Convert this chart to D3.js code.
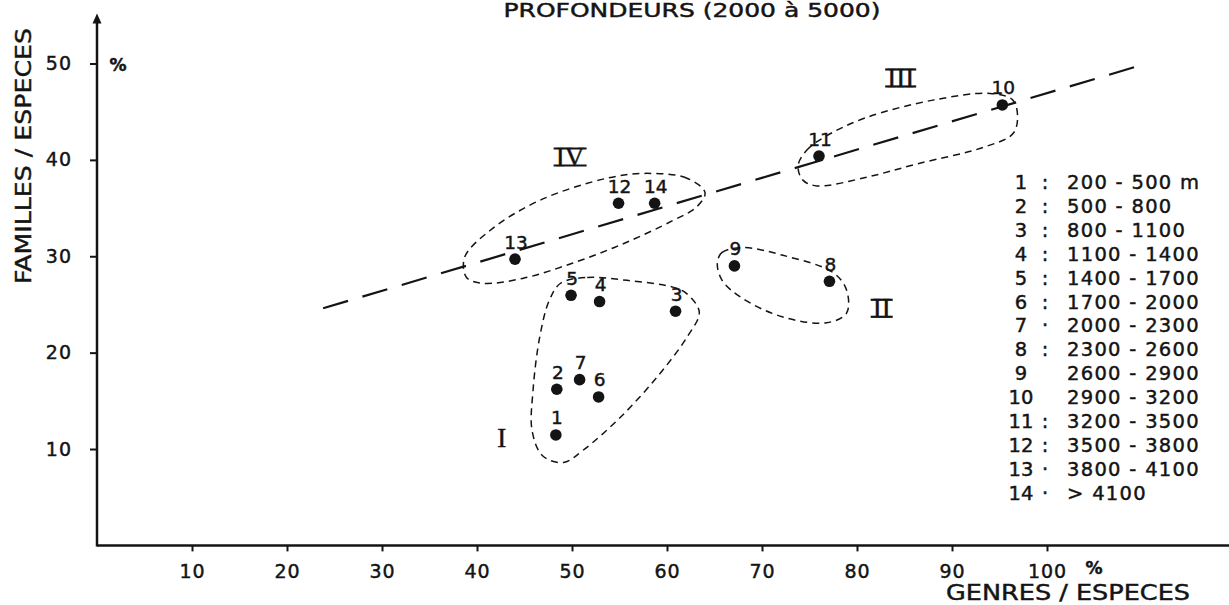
<!DOCTYPE html>
<html><head><meta charset="utf-8">
<script src="https://cdn.jsdelivr.net/npm/d3@7"></script>
<style>body{margin:0;background:#fff} svg{display:block} text{stroke:#141414;stroke-width:0.45px}</style>
</head><body><svg id="c" width="1229" height="605"></svg>
<script>
// ---- data ----
const depthIds     = ["1","2","3","4","5","6","7","8","9","10","11","12","13","14"];
const genresPct    = [48.3, 48.4, 60.9, 52.9, 49.9, 52.8, 50.8, 77.1, 67.1, 95.3, 76.0, 54.9, 44.0, 58.7];
const famillesPct  = [11.46, 16.2, 24.3, 25.3, 25.95, 15.4, 17.2, 27.4, 29.0, 45.7, 40.4, 35.5, 29.7, 35.5];
const legendRanges = ["200 - 500 m","500 - 800","800 - 1100","1100 - 1400","1400 - 1700","1700 - 2000","2000 - 2300","2300 - 2600","2600 - 2900","2900 - 3200","3200 - 3500","3500 - 3800","3800 - 4100","> 4100"];
const legendSeps   = [":",":",":",":",":",":","·",":","","",":",":","·","·"];
const xTicks = [10,20,30,40,50,60,70,80,90,100];
const yTicks = [10,20,30,40,50];
// trend line end points (genres %, familles %)
const trendLine = [[23.8, 24.6],[110.5, 50.0]];
// group envelopes (genres %, familles %)
const envI   = [[48.8,27.2],[51.6,27.8],[55.8,27.5],[60.6,26.8],[62.1,26.1],[63.4,24.2],[62.1,21.6],[58.9,17.4],[55.1,13.3],[51.2,9.9],[49.1,8.6],[46.9,9.3],[45.8,11.9],[45.9,16.1],[46.6,21.6],[47.6,25.4]];
const envII  = [[65.3,29.3],[65.8,30.4],[68.0,30.9],[72.2,30.1],[77.5,28.3],[78.9,26.5],[78.9,24.1],[76.8,23.1],[72.2,23.7],[68.0,25.6],[65.8,27.5]];
const envIII = [[73.8,39.4],[74.7,41.0],[76.8,42.5],[81.0,44.4],[88.0,46.2],[94.0,46.9],[96.4,46.2],[96.9,44.4],[96.4,42.7],[93.3,41.3],[86.4,39.6],[81.0,38.2],[75.8,37.3],[74.3,37.9]];
const envIV  = [[64.0,36.6],[62.1,38.1],[57.9,38.6],[53.7,38.1],[46.6,35.8],[41.4,32.7],[38.7,29.9],[38.9,27.8],[40.6,27.2],[44.8,27.7],[50.1,29.3],[55.4,31.3],[60.6,33.7],[63.1,35.1]];
const groupNames = ["I","II","III","IV"];
const groupLabelX = [42.6, 82.6, 84.6, 49.8];
const groupLabelY = [11.1, 24.6, 48.5, 40.3];

// ---- layout ----
const svg = d3.select('#c');
const ink = '#141414';
const font = 'DejaVu Sans, sans-serif';
const serif = 'Liberation Serif, DejaVu Serif, serif';
const x = d3.scaleLinear().domain([0,100]).range([97,1047]);
const y = d3.scaleLinear().domain([0,50]).range([545.4,63.5]);
const xAxisEnd = 119.5, yAxisEnd = 55.2;

// title
svg.append('text').attr('x',692).attr('y',17).attr('text-anchor','middle')
  .attr('font-family',font).attr('font-size',19).attr('fill',ink)
  .attr('textLength',377).attr('lengthAdjust','spacingAndGlyphs')
  .text('PROFONDEURS (2000 à 5000)');

// axes
const gx = svg.append('g').attr('transform',`translate(0,${y(0)})`)
  .call(d3.axisBottom(x).tickValues(xTicks).tickSize(6).tickPadding(13).tickSizeOuter(0));
gx.select('.domain').remove();
gx.selectAll('line').attr('stroke',ink).attr('stroke-width',2);
gx.selectAll('text').style('font-family',font).style('font-size','19px').attr('fill',ink).attr('letter-spacing',1);

const gy = svg.append('g').attr('transform',`translate(${x(0)},0)`)
  .call(d3.axisLeft(y).tickValues(yTicks).tickSize(7).tickPadding(18).tickSizeOuter(0));
gy.select('.domain').remove();
gy.selectAll('line').attr('stroke',ink).attr('stroke-width',2);
gy.selectAll('text').style('font-family',font).style('font-size','19px').attr('fill',ink).attr('letter-spacing',1);

svg.append('line').attr('x1',x(0)).attr('x2',x(xAxisEnd)).attr('y1',y(0)).attr('y2',y(0))
  .attr('stroke',ink).attr('stroke-width',2.5);
svg.append('line').attr('x1',x(0)).attr('x2',x(0)).attr('y1',y(0)+1).attr('y2',y(yAxisEnd)+6)
  .attr('stroke',ink).attr('stroke-width',2.5);
const ax = x(0), ay = y(yAxisEnd);
svg.append('path').attr('d',`M${ax},${ay} L${ax-4.5},${ay+10} L${ax+4.5},${ay+10} Z`).attr('fill',ink);

// % marks
svg.append('text').attr('x',x(0)+21).attr('y',y(50)+7).attr('text-anchor','middle')
  .attr('font-family',font).attr('font-size',17).attr('font-weight','bold').attr('fill',ink).text('%');
svg.append('text').attr('x',x(100)+47).attr('y',y(0)+29).attr('text-anchor','middle')
  .attr('font-family',font).attr('font-size',17).attr('font-weight','bold').attr('fill',ink).text('%');

// axis titles
svg.append('text').attr('x',946).attr('y',600)
  .attr('font-family',font).attr('font-size',21).attr('fill',ink)
  .attr('textLength',244).attr('lengthAdjust','spacingAndGlyphs')
  .text('GENRES / ESPECES');
svg.append('text').attr('transform','translate(31,284) rotate(-90)')
  .attr('font-family',font).attr('font-size',22).attr('fill',ink)
  .attr('textLength',256).attr('lengthAdjust','spacingAndGlyphs')
  .text('FAMILLES / ESPECES');

// envelopes
const env = d3.line().x(d=>x(d[0])).y(d=>y(d[1])).curve(d3.curveCatmullRomClosed.alpha(0.5));
[envI, envII, envIII, envIV].forEach(p => {
  svg.append('path').attr('d',env(p)).attr('fill','none').attr('stroke',ink)
    .attr('stroke-width',1.5).attr('stroke-dasharray','7,5');
});

// trend line
svg.append('path').attr('d',d3.line().x(d=>x(d[0])).y(d=>y(d[1]))(trendLine))
  .attr('fill','none').attr('stroke',ink).attr('stroke-width',2.2).attr('stroke-dasharray','26,15');

// points
const pts = depthIds.map((id,i)=>({id, gx: genresPct[i], fy: famillesPct[i]}));
svg.append('g').selectAll('circle').data(pts).join('circle')
  .attr('cx',d=>x(d.gx)).attr('cy',d=>y(d.fy)).attr('r',5.8).attr('fill',ink);
svg.append('g').selectAll('text').data(pts).join('text')
  .attr('x',d=>x(d.gx)+1).attr('y',d=>y(d.fy)-10.5).attr('text-anchor','middle')
  .attr('font-family',font).attr('font-size',18.5).attr('fill',ink).text(d=>d.id);

// group labels (roman numerals)
groupNames.forEach((g,i)=>{
  const cx = x(groupLabelX[i]), cy = y(groupLabelY[i]);
  const t = svg.append('text').attr('x',cx).attr('y',cy+9).attr('text-anchor','middle')
    .attr('font-family',serif).attr('font-size',27).attr('fill',ink).text(g);
  if (g.length > 1) {
    const bb = t.node().getBBox();
    const w = bb.width + 4;
    [cy-8.5, cy+8.5].forEach(yy=>{
      svg.append('line').attr('x1',cx-w/2).attr('x2',cx+w/2).attr('y1',yy).attr('y2',yy)
        .attr('stroke',ink).attr('stroke-width',2.2);
    });
  }
});

// legend
const lg = svg.append('g');
legendRanges.forEach((r,i)=>{
  const by = 189 + 23.9*i;
  lg.append('text').attr('x',1021).attr('y',by).attr('text-anchor','middle')
    .attr('font-family',font).attr('font-size',19.5).attr('fill',ink).text(depthIds[i]);
  if (legendSeps[i]) lg.append('text').attr('x',1045).attr('y',by).attr('text-anchor','middle')
    .attr('font-family',font).attr('font-size',19.5).attr('fill',ink).text(legendSeps[i]);
  lg.append('text').attr('x',1067).attr('y',by)
    .attr('font-family',font).attr('font-size',19.5).attr('fill',ink).attr('letter-spacing',1.3).text(r);
});
</script></body></html>
